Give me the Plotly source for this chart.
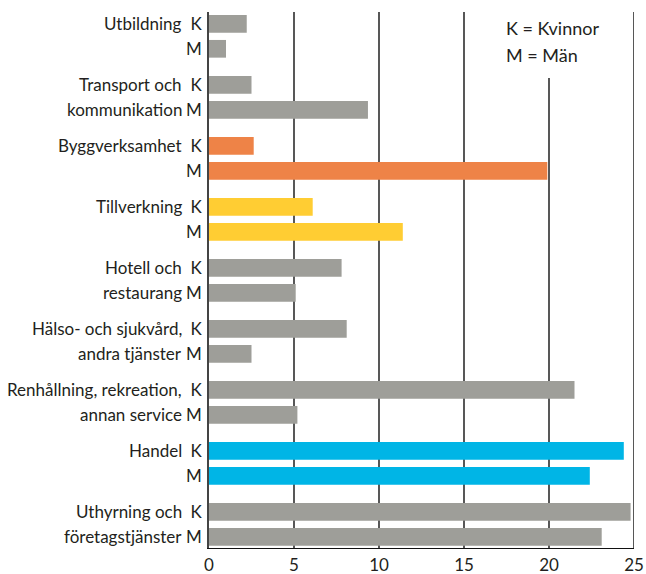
import plotly.graph_objects as go

# ---- data ----
label_k = ["Utbildning", "Transport och", "Byggverksamhet", "Tillverkning", "Hotell och",
           "Hälso- och sjukvård,", "Renhållning, rekreation,", "Handel", "Uthyrning och"]
label_m = ["", "kommunikation", "", "", "restaurang",
           "andra tjänster", "annan service", "", "företagstjänster"]
kvinnor = [2.22, 2.5, 2.63, 6.1, 7.8, 8.1, 21.5, 24.4, 24.8]
man = [1.0, 9.35, 19.9, 11.4, 5.1, 2.5, 5.2, 22.4, 23.1]
group_colors = ["#9e9e99", "#9e9e99", "#ee8347", "#ffcd33", "#9e9e99",
                "#9e9e99", "#9e9e99", "#00b5e6", "#9e9e99"]
x_ticks = [0, 5, 10, 15, 20, 25]
legend_lines = ["K = Kvinnor", "M = Män"]

# ---- layout constants ----
GROUP_PITCH = 61
PAIR_GAP = 25
FONT = "Lato, 'Open Sans', sans-serif"
TXT = "#231f20"

n = len(label_k)
yk = [g * GROUP_PITCH for g in range(n)]
ym = [g * GROUP_PITCH + PAIR_GAP for g in range(n)]

fig = go.Figure()
fig.add_trace(go.Bar(x=kvinnor, y=yk, orientation="h", width=17.7,
                     marker=dict(color=group_colors, line_width=0), name="K"))
fig.add_trace(go.Bar(x=man, y=ym, orientation="h", width=17.7,
                     marker=dict(color=group_colors, line_width=0), name="M"))

# vertical gridlines (20-line stops below the legend text)
for t in x_ticks[1:]:
    top = 0.877 if t == 20 else 1.0
    fig.add_shape(type="line", xref="x", yref="y domain", x0=t, x1=t, y0=0, y1=top,
                  line=dict(color="#111111", width=1.4), layer="below")

# category labels
for g in range(n):
    for txt, yy in ((label_k[g], yk[g]), (label_m[g], ym[g])):
        if txt:
            fig.add_annotation(x=0, y=yy, xref="x", yref="y", text=txt, showarrow=False,
                               xanchor="right", yanchor="middle", xshift=-25,
                               font=dict(family=FONT, size=17, color=TXT))

# legend text
for i, line in enumerate(legend_lines):
    fig.add_annotation(x=0.694, y=0.970 - i * 0.05, xref="paper", yref="paper", text=line,
                       showarrow=False, xanchor="left", yanchor="middle",
                       font=dict(family=FONT, size=18, color=TXT))

tickvals = []
ticktext = []
for g in range(n):
    tickvals += [yk[g], ym[g]]
    ticktext += ["K", "M"]

fig.update_layout(
    width=646, height=574,
    margin=dict(l=209, r=12, t=12, b=26, autoexpand=False),
    paper_bgcolor="white", plot_bgcolor="white",
    showlegend=False, barmode="overlay", hovermode=False,
    xaxis=dict(range=[0, 25], tickvals=x_ticks, showgrid=False, zeroline=False,
               showline=True, linecolor="#111111", linewidth=1.4, ticks="",
               automargin=False,
               tickfont=dict(family=FONT, size=17, color=TXT), ticklabelstandoff=1),
    yaxis=dict(range=[524.2, -11.8], tickvals=tickvals, ticktext=ticktext,
               showgrid=False, zeroline=False, showline=True, linecolor="#444444",
               linewidth=1.6, ticks="", ticklabelstandoff=2, automargin=False,
               tickfont=dict(family=FONT, size=17, color=TXT)),
)

fig.write_html(
    "out.html",
    config={"displayModeBar": False},
    post_script="document.body.style.margin='0';document.body.style.overflow='hidden';",
)
